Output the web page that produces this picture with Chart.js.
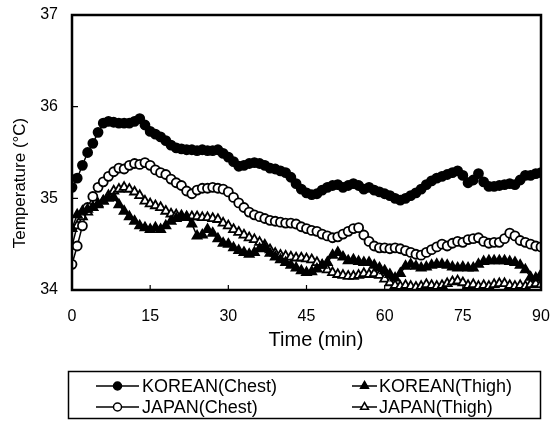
<!DOCTYPE html>
<html>
<head>
<meta charset="utf-8">
<script src="https://cdn.jsdelivr.net/npm/chart.js@4"></script>
<style>
  body { margin: 0; background: #fff; }
</style>
</head>
<body>
<canvas id="chart" width="550" height="423"></canvas>
<script>
// minutes after start
const minutes = [
  0, 1, 2, 3, 4, 5, 6, 7, 8, 9,
  10, 11, 12, 13, 14, 15, 16, 17, 18, 19,
  20, 21, 22, 23, 24, 25, 26, 27, 28, 29,
  30, 31, 32, 33, 34, 35, 36, 37, 38, 39,
  40, 41, 42, 43, 44, 45, 46, 47, 48, 49,
  50, 51, 52, 53, 54, 55, 56, 57, 58, 59,
  60, 61, 62, 63, 64, 65, 66, 67, 68, 69,
  70, 71, 72, 73, 74, 75, 76, 77, 78, 79,
  80, 81, 82, 83, 84, 85, 86, 87, 88, 89,
  90
];

const koreanChest = [
  35.12, 35.22, 35.36, 35.50, 35.60, 35.72, 35.82, 35.84, 35.83, 35.82,
  35.82, 35.82, 35.84, 35.87, 35.80, 35.73, 35.70, 35.67, 35.63, 35.58,
  35.55, 35.54, 35.53, 35.53, 35.52, 35.53, 35.52, 35.52, 35.53, 35.49,
  35.45, 35.40, 35.35, 35.36, 35.38, 35.39, 35.38, 35.36, 35.33, 35.32,
  35.30, 35.28, 35.23, 35.16, 35.10, 35.06, 35.04, 35.05, 35.09, 35.12,
  35.14, 35.15, 35.12, 35.14, 35.16, 35.14, 35.10, 35.12, 35.09, 35.07,
  35.05, 35.03, 35.00, 34.98, 35.00, 35.03, 35.06, 35.10, 35.15, 35.19,
  35.22, 35.24, 35.26, 35.28, 35.30, 35.25, 35.17, 35.20, 35.27, 35.18,
  35.13, 35.13, 35.14, 35.15, 35.16, 35.15, 35.20, 35.25, 35.25, 35.27,
  35.28
];

const koreanThigh = [
  34.67, 34.82, 34.86, 34.88, 34.90, 34.93, 34.97, 35.00, 35.01, 34.93,
  34.86, 34.80, 34.75, 34.70, 34.68, 34.66, 34.68, 34.66, 34.70, 34.75,
  34.78, 34.79, 34.79, 34.72, 34.59, 34.60, 34.66, 34.62, 34.56, 34.51,
  34.50, 34.46, 34.43, 34.41, 34.39, 34.41, 34.45, 34.46, 34.40, 34.36,
  34.33, 34.30, 34.27, 34.24, 34.21, 34.19, 34.20, 34.23, 34.27, 34.30,
  34.38, 34.41, 34.36, 34.32, 34.33, 34.31, 34.30, 34.30, 34.27, 34.24,
  34.21, 34.17, 34.13, 34.18, 34.26, 34.28, 34.26, 34.24, 34.25, 34.27,
  34.28, 34.28, 34.27, 34.25, 34.24, 34.25, 34.24, 34.24, 34.28, 34.31,
  34.32, 34.32, 34.32, 34.32, 34.31, 34.30, 34.27, 34.22, 34.14, 34.13,
  34.17
];

const japanChest = [
  34.28, 34.48, 34.70, 34.90, 35.02, 35.12, 35.18, 35.24, 35.29, 35.33,
  35.32, 35.36, 35.38, 35.37, 35.39, 35.36, 35.31, 35.28, 35.26, 35.21,
  35.17, 35.14, 35.08, 35.05, 35.09, 35.11, 35.11, 35.12, 35.11, 35.10,
  35.07, 35.01, 34.95, 34.90, 34.85, 34.82, 34.80, 34.78, 34.76, 34.75,
  34.74, 34.73, 34.73, 34.72, 34.69, 34.67, 34.65, 34.64, 34.61, 34.59,
  34.57, 34.58, 34.61, 34.64, 34.67, 34.68, 34.60, 34.53, 34.48, 34.46,
  34.46, 34.45, 34.46, 34.45, 34.43, 34.41, 34.39, 34.38, 34.41, 34.44,
  34.47, 34.50, 34.48, 34.51, 34.53, 34.52, 34.55, 34.56, 34.57, 34.53,
  34.51, 34.52, 34.52, 34.56, 34.62, 34.59, 34.54, 34.52, 34.50, 34.48,
  34.47
];

const japanThigh = [
  34.48, 34.70, 34.80, 34.85, 34.90, 34.94, 34.97, 35.03, 35.08, 35.10,
  35.12, 35.10, 35.07, 35.03, 34.97, 34.94, 34.92, 34.90, 34.86, 34.83,
  34.82, 34.81, 34.80, 34.80, 34.80, 34.79, 34.79, 34.78, 34.77, 34.73,
  34.70, 34.66, 34.63, 34.60, 34.57, 34.55, 34.52, 34.49, 34.44, 34.40,
  34.38, 34.37, 34.36, 34.35, 34.35, 34.34, 34.33, 34.30, 34.27, 34.22,
  34.19, 34.17, 34.16, 34.15, 34.15, 34.16, 34.18, 34.17, 34.18, 34.16,
  34.12, 34.08, 34.05, 34.04, 34.05, 34.04, 34.03, 34.04, 34.06, 34.05,
  34.04, 34.05, 34.07, 34.09, 34.10, 34.08, 34.05, 34.06, 34.04, 34.05,
  34.04, 34.06, 34.07, 34.07, 34.05, 34.04, 34.05, 34.04, 34.06, 34.07,
  34.06
];

const xTicks = [0, 15, 30, 45, 60, 75, 90];
const yTicks = [34, 35, 36, 37];
const seriesNames = ["KOREAN(Chest)", "KOREAN(Thigh)", "JAPAN(Chest)", "JAPAN(Thigh)"];

const FONT = "'Liberation Sans', Arial, sans-serif";

function points(values) {
  return values.map((v, i) => ({ x: minutes[i], y: v }));
}

function series(label, values, style, filled) {
  return {
    label: label,
    data: points(values),
    borderColor: "#000",
    borderWidth: 1.5,
    pointStyle: style,
    pointRadius: style === "triangle" ? 5.2 : 4.5,
    pointBorderColor: "#000",
    pointBorderWidth: 1.8,
    pointBackgroundColor: filled ? "#000" : "#fff",
    tension: 0
  };
}

// frame, inner ticks, axis titles and the boxed legend
const decorations = {
  id: "decorations",
  afterDraw(chart) {
    const ctx = chart.ctx;
    const area = chart.chartArea;
    const xs = chart.scales.x, ys = chart.scales.y;
    ctx.save();
    ctx.strokeStyle = "#000";
    ctx.lineWidth = 2.5;
    ctx.strokeRect(area.left, area.top, area.right - area.left, area.bottom - area.top);

    ctx.lineWidth = 1.2;
    ctx.beginPath();
    yTicks.forEach(v => {
      const y = ys.getPixelForValue(v);
      ctx.moveTo(area.left, y);
      ctx.lineTo(area.left + 6, y);
    });
    xTicks.forEach(v => {
      const x = xs.getPixelForValue(v);
      ctx.moveTo(x, area.bottom);
      ctx.lineTo(x, area.bottom - 5);
    });
    ctx.stroke();

    ctx.fillStyle = "#000";
    ctx.font = "17px " + FONT;
    ctx.textAlign = "center";
    ctx.textBaseline = "middle";
    ctx.save();
    ctx.translate(20, 183);
    ctx.rotate(-Math.PI / 2);
    ctx.fillText("Temperature (°C)", 0, 0);
    ctx.restore();

    ctx.font = "20px " + FONT;
    ctx.fillText("Time (min)", 316, 340);

    // legend
    ctx.lineWidth = 1.5;
    ctx.strokeRect(68.5, 371.5, 472, 47);
    const items = [
      { ds: 0, x1: 96, x2: 139, tx: 142, y: 386 },
      { ds: 1, x1: 352, x2: 377, tx: 379, y: 386 },
      { ds: 2, x1: 96, x2: 139, tx: 142, y: 407 },
      { ds: 3, x1: 352, x2: 377, tx: 379, y: 407 }
    ];
    ctx.font = "18px " + FONT;
    ctx.textAlign = "left";
    items.forEach(it => {
      const ds = chart.data.datasets[it.ds];
      ctx.lineWidth = 1.5;
      ctx.beginPath();
      ctx.moveTo(it.x1, it.y);
      ctx.lineTo(it.x2, it.y);
      ctx.stroke();
      const cx = (it.x1 + it.x2) / 2;
      ctx.beginPath();
      if (ds.pointStyle === "triangle") {
        const r = 4.5;
        ctx.moveTo(cx, it.y - r);
        ctx.lineTo(cx + r * 0.87, it.y + r * 0.5);
        ctx.lineTo(cx - r * 0.87, it.y + r * 0.5);
        ctx.closePath();
      } else {
        ctx.arc(cx, it.y, 4, 0, Math.PI * 2);
      }
      ctx.fillStyle = ds.pointBackgroundColor;
      ctx.fill();
      ctx.stroke();
      ctx.fillStyle = "#000";
      ctx.fillText(ds.label, it.tx, it.y + 1);
    });
    ctx.restore();
  }
};

new Chart(document.getElementById("chart"), {
  type: "line",
  data: {
    datasets: [
      series(seriesNames[0], koreanChest, "circle", true),
      series(seriesNames[1], koreanThigh, "triangle", true),
      series(seriesNames[2], japanChest, "circle", false),
      series(seriesNames[3], japanThigh, "triangle", false)
    ]
  },
  options: {
    responsive: false,
    animation: false,
    layout: { padding: { left: 0, right: 9, top: 15, bottom: 97 } },
    plugins: {
      legend: { display: false },
      tooltip: { enabled: false }
    },
    scales: {
      x: {
        type: "linear",
        min: 0,
        max: 90,
        afterBuildTicks: s => { s.ticks = xTicks.map(v => ({ value: v })); },
        afterFit: s => { s.height = 36; s.paddingLeft = 0; s.paddingRight = 0; },
        grid: { display: false, drawTicks: false },
        border: { display: false },
        ticks: { color: "#000", padding: 17, font: { family: FONT, size: 16 } }
      },
      y: {
        min: 34,
        max: 37,
        afterBuildTicks: s => { s.ticks = yTicks.map(v => ({ value: v })); },
        afterFit: s => { s.width = 72; s.paddingTop = 0; s.paddingBottom = 0; },
        grid: { display: false, drawTicks: false },
        border: { display: false },
        ticks: { color: "#000", padding: 14, font: { family: FONT, size: 16 } }
      }
    }
  },
  plugins: [decorations]
});
</script>
</body>
</html>
